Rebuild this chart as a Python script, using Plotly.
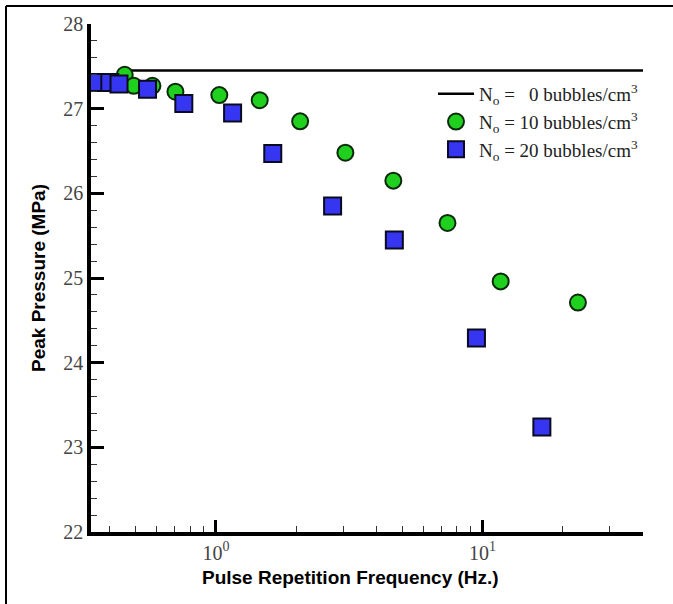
import numpy as np
import plotly.graph_objects as go

# Data
freq_n0 = [0.45, 40.0]
press_n0 = [27.45, 27.45]

freq_n10 = [0.455, 0.492, 0.578, 0.705, 1.03, 1.46, 2.07, 3.06, 4.63, 7.39, 11.7, 22.8]
press_n10 = [27.40, 27.27, 27.27, 27.20, 27.16, 27.10, 26.85, 26.48, 26.15, 25.65, 24.96, 24.71]

freq_n20 = [0.354, 0.40, 0.433, 0.554, 0.758, 1.155, 1.634, 2.74, 4.67, 9.49, 16.7]
press_n20 = [27.31, 27.31, 27.29, 27.23, 27.06, 26.95, 26.47, 25.85, 25.45, 24.29, 23.24]

names = ["N<sub>o</sub> =   0 bubbles/cm<sup>3</sup>",
         "N<sub>o</sub> = 10 bubbles/cm<sup>3</sup>",
         "N<sub>o</sub> = 20 bubbles/cm<sup>3</sup>"]

y_ticks = [22, 23, 24, 25, 26, 27, 28]
x_ticks = [1, 10]
x_ticktext = ["10<sup>0</sup>", "10<sup>1</sup>"]
x_minor = [0.4, 0.5, 0.6, 0.7, 0.8, 0.9, 2, 3, 4, 5, 6, 7, 8, 9, 20, 30, 40]

serif = "Liberation Serif, Times New Roman, serif"
sans = "Liberation Sans, Arial, sans-serif"

fig = go.Figure()
fig.add_trace(go.Scatter(x=freq_n0, y=press_n0, mode="lines", name=names[0],
                         line=dict(color="black", width=2.5)))
fig.add_trace(go.Scatter(x=freq_n10, y=press_n10, mode="markers", name=names[1],
                         marker=dict(symbol="circle", size=16, color="#1fd01f",
                                     line=dict(color="#0a2a0a", width=2))))
fig.add_trace(go.Scatter(x=freq_n20, y=press_n20, mode="markers", name=names[2],
                         marker=dict(symbol="square", size=17, color="#3636f2",
                                     line=dict(color="#0a0a20", width=2))))

W, H = 673, 604
ml, mr, mt, mb = 91, 30, 24, 72
pw = W - ml - mr
ph = H - mt - mb

def px_x(p):
    return (p - ml) / pw

def px_y(p):
    return (H - mb - p) / ph

fig.update_layout(
    width=W, height=H,
    margin=dict(l=ml, r=mr, t=mt, b=mb),
    paper_bgcolor="white", plot_bgcolor="white",
    showlegend=True,
    legend=dict(x=1.0, xanchor="right", y=px_y(75), yanchor="top",
                bgcolor="rgba(0,0,0,0)", font=dict(family=serif, size=19, color="#222"),
                tracegroupgap=0, itemwidth=36),
    xaxis=dict(type="log", range=[np.log10(0.34), np.log10(40)],
               showline=True, linecolor="black", linewidth=3.5, mirror=False,
               showgrid=False, zeroline=False,
               tickmode="array", tickvals=x_ticks, ticktext=x_ticktext,
               ticks="inside", ticklen=12, tickwidth=3, tickcolor="black",
               tickfont=dict(family=serif, size=20, color="#444"),
               minor=dict(tickmode="array", tickvals=x_minor, ticks="inside",
                          ticklen=6, tickwidth=1, tickcolor="#333", showgrid=False)),
    yaxis=dict(range=[22, 28], showline=True, linecolor="black", linewidth=3.5,
               mirror=False, showgrid=False, zeroline=False,
               tickmode="array", tickvals=y_ticks,
               ticks="inside", ticklen=13, tickwidth=3, tickcolor="black",
               tickfont=dict(family=serif, size=20, color="#444"),
               minor=dict(dtick=0.2, ticks="inside", ticklen=6, tickwidth=1,
                          tickcolor="#333", showgrid=False),
               title=dict(text="<b>Peak Pressure (MPa)</b>",
                          font=dict(family=sans, size=19, color="black"), standoff=14)),
    annotations=[
        dict(text="<b>Pulse Repetition Frequency (Hz.)</b>", xref="paper", yref="paper",
             x=px_x(350), y=px_y(577), xanchor="center", yanchor="middle",
             showarrow=False, font=dict(family=sans, size=19, color="black")),
    ],
    shapes=[
        dict(type="line", xref="paper", yref="paper", x0=px_x(6), x1=px_x(W + 5),
             y0=px_y(6), y1=px_y(6), line=dict(color="black", width=2)),
        dict(type="line", xref="paper", yref="paper", x0=px_x(6), x1=px_x(6),
             y0=px_y(6), y1=px_y(H + 5), line=dict(color="black", width=2)),
    ],
)

fig.write_html("out.html")
